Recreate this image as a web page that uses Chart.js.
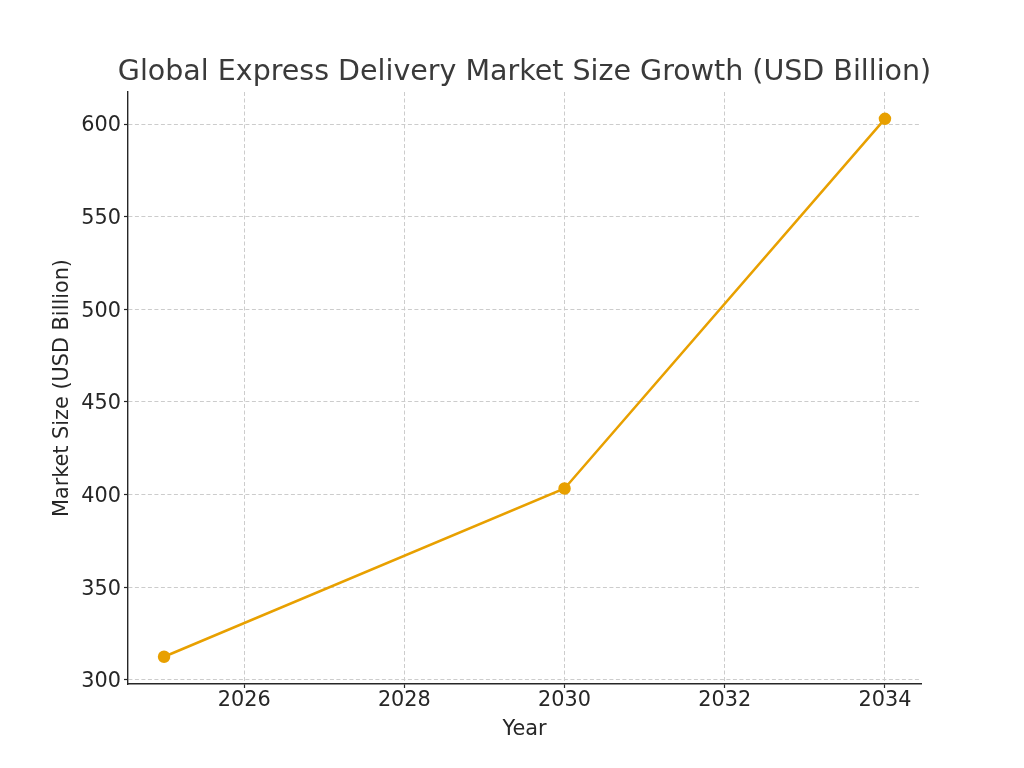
<!DOCTYPE html>
<html>
<head>
<meta charset="utf-8">
<script src="https://cdn.jsdelivr.net/npm/chart.js@4/dist/chart.umd.min.js"></script>
<style>
  html, body { margin: 0; padding: 0; background: #fff; }
  #wrap { width: 1024px; height: 768px; }
</style>
</head>
<body>
<div id="wrap"><canvas id="marketChart" width="1024" height="768"></canvas></div>
<script>
// values
const years = [2025, 2030, 2034];
const marketSize = [312.5, 403.3, 602.8];
const xTicks = [2026, 2028, 2030, 2032, 2034];
const yTicks = [300, 350, 400, 450, 500, 550, 600];

const lineColor = '#e8a000';
const font = "'DejaVu Sans', sans-serif";

const gridOpts = {
  color: '#cccccc',
  lineWidth: 1,
  tickBorderDash: [],
  tickColor: '#262626',
  tickLength: 4,
  tickWidth: 1.2
};
// in v4 the grid line dash lives on the border options
const borderOpts = { display: true, color: '#262626', width: 1.4, dash: [4, 2.5] };

// center the title over the plot area like matplotlib does (without squeezing it)
const titleOverAxes = {
  id: 'titleOverAxes',
  afterLayout(chart) {
    if (chart.titleBlock) {
      const mid = (chart.chartArea.left + chart.chartArea.right) / 2;
      chart.titleBlock.left = mid - 520;
      chart.titleBlock.right = mid + 520;
    }
  }
};

new Chart(document.getElementById('marketChart'), {
  type: 'line',
  data: {
    datasets: [{
      label: 'Market Size',
      data: years.map((y, i) => ({x: y, y: marketSize[i]})),
      borderColor: lineColor,
      backgroundColor: lineColor,
      borderWidth: 2.5,
      pointRadius: 5,
      pointHoverRadius: 5,
      tension: 0
    }]
  },
  plugins: [titleOverAxes],
  options: {
    responsive: false,
    animation: false,
    layout: { padding: { left: 0, right: 103, top: 0, bottom: 0 } },
    plugins: {
      legend: { display: false },
      tooltip: { enabled: false },
      title: {
        display: true,
        text: 'Global Express Delivery Market Size Growth (USD Billion)',
        color: '#3a3a3a',
        font: { family: font, size: 28.5, weight: 'normal' },
        padding: { top: 55.5, bottom: 2.3 }
      }
    },
    scales: {
      x: {
        type: 'linear',
        min: 2024.55,
        max: 2034.45,
        afterBuildTicks: axis => { axis.ticks = xTicks.map(v => ({value: v})); },
        afterFit: axis => { axis.height = 84; },
        grid: gridOpts,
        border: borderOpts,
        ticks: {
          color: '#262626',
          font: { family: font, size: 20.8 },
          padding: 0,
          maxRotation: 0,
          callback: v => String(v)
        },
        title: {
          display: true,
          text: 'Year',
          color: '#262626',
          font: { family: font, size: 20.8 },
          padding: { top: 0, bottom: 25.5 }
        }
      },
      y: {
        min: 297.8,
        max: 617.3,
        afterBuildTicks: axis => { axis.ticks = yTicks.map(v => ({value: v})); },
        afterFit: axis => { axis.width = 128; },
        grid: gridOpts,
        border: borderOpts,
        ticks: {
          color: '#262626',
          font: { family: font, size: 20.8 },
          padding: 3,
          labelOffset: 2,
          callback: v => String(v)
        },
        title: {
          display: true,
          text: 'Market Size (USD Billion)',
          color: '#262626',
          font: { family: font, size: 20.8 },
          padding: { top: 50.5, bottom: 0 }
        }
      }
    }
  }
});
</script>
</body>
</html>
